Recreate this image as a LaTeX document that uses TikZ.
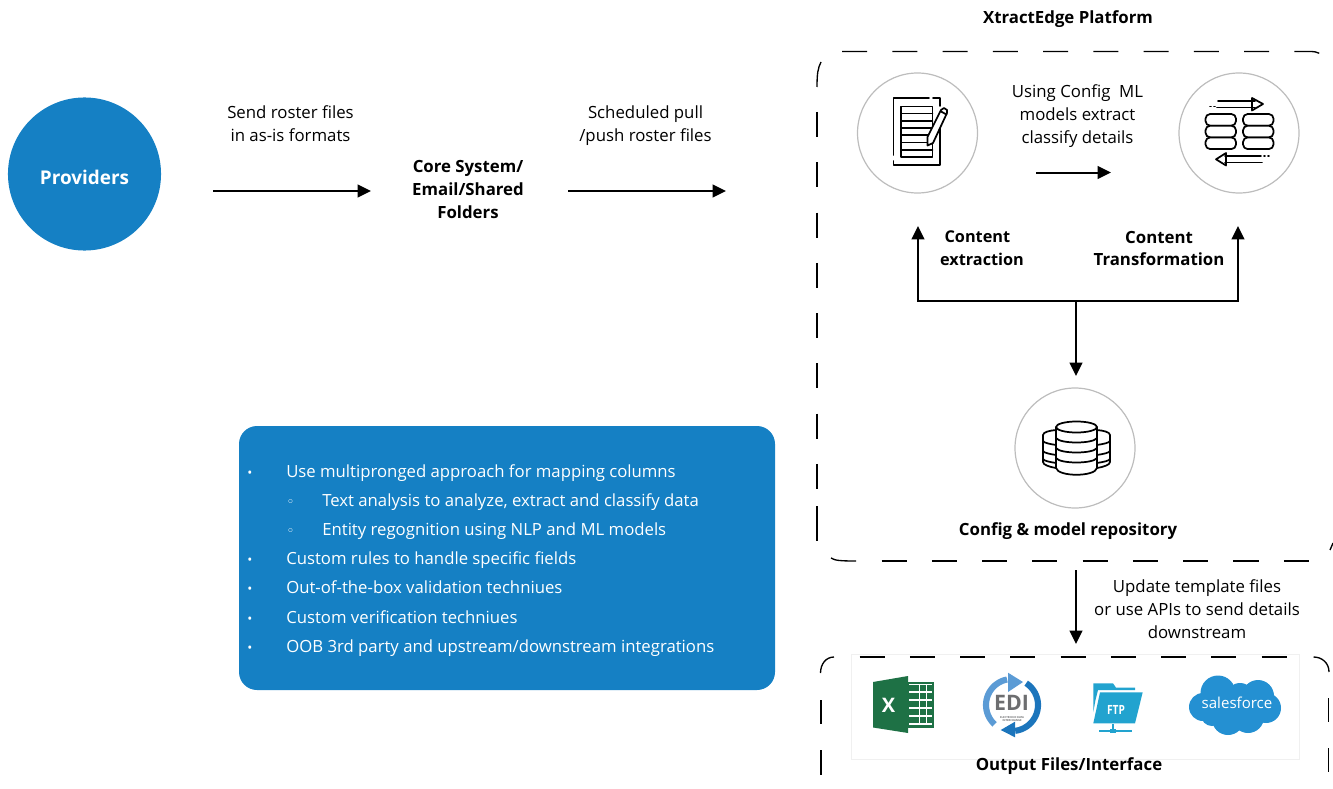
\documentclass[tikz,border=0pt]{standalone}
\usepackage{fontspec}
\setmainfont{Open Sans}
\newfontfamily\djv{DejaVu Sans}
\usetikzlibrary{arrows.meta}
\definecolor{pblue}{HTML}{1580C4}
\definecolor{ring}{HTML}{BDBDBD}
\definecolor{xlgreen}{HTML}{1E7145}
\definecolor{edil}{HTML}{5B9BD5}
\definecolor{edid}{HTML}{1C75BC}
\definecolor{ftpb}{HTML}{22A3CF}
\definecolor{sfb}{HTML}{2490D2}
\definecolor{edig}{HTML}{6D6E70}
\tikzset{
 x=0.75pt,y=-0.75pt,
 lab/.style={align=center,font=\fontsize{12.6}{17.2}\selectfont,text=black,inner sep=0},
 blab/.style={lab,font=\fontsize{12.6}{17.2}\selectfont\bfseries},
 conn/.style={line width=1.5pt,-{Triangle[length=10pt,width=9.5pt]}},
 dashb/.style={line width=1pt,black,dash pattern=on 18.8pt off 18.9pt},
 soldb/.style={line width=1pt,black},
 ringc/.style={circle,draw=ring,line width=0.9pt,minimum size=90pt,inner sep=0,fill=white},
 ico/.style={line width=1.3pt,black,line cap=round,line join=round},
 bul/.style={anchor=base west,inner sep=0,text=white,font=\fontsize{12.55}{16}\selectfont},
 bdot/.style={anchor=base,inner sep=0,text=white,font=\fontsize{10}{10}\selectfont},
}
\begin{document}
\begin{tikzpicture}
\useasboundingbox (0,0) rectangle (1333,788);
\clip (0,0) rectangle (1333,788);
% Providers
\node[circle,fill=pblue,minimum size=114.8pt,inner sep=0] (prov) at (84.5,174) {};
\node[text=white,inner sep=0,font=\fontsize{14.2}{17}\selectfont\bfseries] (provt) at (84.5,177) {Providers};
\node[blab] (core) at (468,189.5) {Core System/\\Email/Shared\\Folders};
\node[lab] (l1) at (290.5,124) {Send roster files\\in as-is formats};
\node[lab] (l2) at (645.5,125.5) {Scheduled pull\\/push roster files};
\coordinate (a1) at (213,191); \coordinate (a2) at (371,191);
\coordinate (b1) at (568,191); \coordinate (b2) at (726,191);
\draw[conn] (a1) -- (a2);
\draw[conn] (b1) -- (b2);
% Platform
\node[blab] (plat) at (1068,19) {XtractEdge Platform};
\node[blab,font=\fontsize{12.2}{17.2}\selectfont\bfseries] (ext) at (982,248.5) {Content\hspace*{7pt}\\extraction};
\node[blab] (tra) at (1159,248.5) {Content\\Transformation};
\node[lab] (l3) at (1077.5,116) {Using Config\ \ ML\\models extract\\classify details};
\node[lab] (l4) at (1197,609) {Update template files\\or use APIs to send details\\downstream};
\node[blab] (repo) at (1068,531) {Config \& model repository};
% dashed frame 1
\draw[dashb] (842,51.5) -- (1310,51.5) .. controls (1314,51.5) and (1317,52) .. (1320,53.5);
\draw[soldb] (821,62) .. controls (818,68) and (817,73) .. (817,87);
\draw[dashb] (817,112) -- (817,490);
\draw[soldb] (817,506) -- (817,541);
\draw[soldb] (831,558) .. controls (835,560.5) and (840,561) .. (856,561);
\draw[dashb] (881.6,561) -- (1310,561);
\draw[soldb] (1330,550) -- (1333,543);
% circles
\node[ringc] (c1) at (917.5,133) {};
\node[ringc] (c2) at (1239,133) {};
\node[ringc] (c3) at (1075,448) {};
% connectors
\coordinate (j) at (1076,301);
\coordinate (u1) at (918,226); \coordinate (u2) at (1238,226);
\coordinate (d1) at (1076,376);
\coordinate (e1) at (1036,172.5); \coordinate (e2) at (1111,172.5);
\coordinate (f1) at (1076,570); \coordinate (f2) at (1076,644);
\draw[conn] (j) -| (u1);
\draw[conn] (j) -| (u2);
\draw[conn] (j) -- (d1);
\draw[conn] (e1) -- (e2);
\draw[conn] (f1) -- (f2);
\begin{scope}[ico]
% document icon
\draw (929,98) -- (893.5,98) -- (893.5,155);
\draw (893.5,161) -- (893.5,165) -- (940,165) -- (940,118);
\draw (933,98) -- (940,98) -- (940,106);
\draw (901,106.5) rectangle (932.5,157);
\foreach \yy in {113.5,120.7,128,135.2,142.4,149.7} \draw (901,\yy) -- (932.5,\yy);
\draw[fill=white] (927.5,137) -- (941,110) -- (944,108) -- (947,110) -- (947,113) -- (933,143) -- (927.5,145.5) -- cycle;
\draw (941,111.5) -- (946.5,114.5);
% transform icon
\foreach \xx in {1205.5,1243} {
  \foreach \yy in {114,125.7,137.4}
    \draw[rounded corners=3.5pt,fill=white] (\xx,\yy) rectangle ++(30.5,11.7);
}
\draw (1218,100.7) -- (1255,100.7); \draw (1217,107.5) -- (1255,107.5);
\draw (1252,98) -- (1263,104) -- (1252,110.5) -- cycle;
\draw (1210,106.5) -- (1211,106.5); \draw (1214,106.5) -- (1215,106.5);
\draw (1225,156) -- (1261,156); \draw (1225,162.5) -- (1262,162.5);
\draw (1226,153) -- (1216,159.3) -- (1226,165.5) -- cycle;
\draw (1264,156) -- (1265,156); \draw (1268,156) -- (1269,156);
% database icon
\draw[fill=white] (1056,430) .. controls (1050,430.5) and (1043,432) .. (1043,435) -- (1043,462) .. controls (1043,465) and (1050,467) .. (1056,468);
\draw[fill=white] (1097,430) .. controls (1103,430.5) and (1110,432) .. (1110,435) -- (1110,462) .. controls (1110,465) and (1103,467) .. (1097,468);
\foreach \yy in {441,451,459} {
  \draw (1043,\yy) .. controls (1044,\yy+2) and (1050,\yy+3) .. (1056,\yy+4);
  \draw (1110,\yy) .. controls (1109,\yy+2) and (1103,\yy+3) .. (1097,\yy+4);
}
\draw[fill=white] (1056,427) -- (1056,468) .. controls (1058,477) and (1095,477) .. (1097,468) -- (1097,427);
\draw[fill=white] (1076.5,427) ellipse[x radius=20.5,y radius=5.5];
\foreach \yy in {438,448,458} \draw (1056,\yy) .. controls (1060,\yy+6) and (1093,\yy+6) .. (1097,\yy);
\end{scope}
% bottom frame
\draw[draw=black!6,line width=0.5pt] (851,654) rectangle (1299,759);
\draw[dashb] (859.5,657) -- (1290,657);
\draw[soldb] (820.5,673) .. controls (820.5,664) and (826,657) .. (834,657);
\draw[soldb] (1313.5,657) .. controls (1322,657) and (1329,663) .. (1329,672);
\draw[soldb] (821,700) -- (821,724);
\draw[soldb] (821,750) -- (821,775);
\draw[soldb] (1328.5,698) -- (1328.5,722);
\draw[soldb] (1328.5,748) -- (1328.5,772);
\node[blab] (out) at (1069,766.5) {Output Files/Interface};
% Excel
\fill[xlgreen] (873,682) -- (908,676) -- (908,733) -- (873,727.5) -- cycle;
\fill[xlgreen] (907,681.5) -- (934,681.5) -- (934,727.5) -- (907,727.5) -- cycle;
\fill[white] (909,684) rectangle (932,725);
\foreach \xx/\ww in {909/10,920/6,927/5} {
 \foreach \yy in {684.8,692.8,700.8,708.8,716.8}
  \fill[xlgreen] (\xx,\yy) rectangle ++(\ww,6.6);
}
\node[text=white,font=\fontsize{15}{15}\selectfont\bfseries,inner sep=0] (xl) at (888.5,705) {X};
% EDI
\draw[edil,line width=4.6pt] plot[domain=132:259,samples=30,smooth] ({1012+26*cos(\x)},{705+26*sin(\x)});
\fill[edil] (1008,672.7) -- (1023,682) -- (1008,692) -- cycle;
\draw[edid,line width=4.6pt] plot[domain=-57:83,samples=30,smooth] ({1012+26*cos(\x)},{705+26*sin(\x)});
\fill[edid] (1015,721.7) -- (1000.7,730) -- (1015,737.3) -- cycle;
\node[text=edig,font=\fontsize{16}{16}\selectfont\bfseries,inner sep=0,text height=11.4pt,text depth=0pt] (edi) at (1011.5,702.5) {EDI};
\node[text=edig,align=center,font=\fontsize{2}{2.4}\selectfont\bfseries,inner sep=0] (edit) at (1012,719) {ELECTRONIC DATA\\INTERCHANGE};
% FTP
\fill[ftpb] (1093.3,683.3) -- (1113,683.3) -- (1116,687.7) -- (1135,687.7) -- (1135,690) -- (1098,690) -- (1095.5,700) -- (1093.3,712) -- cycle;
\fill[ftpb] (1100,692.3) -- (1142.7,692.3) -- (1135,723.3) -- (1093.3,723.3) -- cycle;
\node[text=white,xscale=0.8,font=\fontsize{9.5}{10}\selectfont\bfseries,inner sep=0] (ftp) at (1116,709.5) {FTP};
\draw[ftpb,line width=1.6pt] (1099,731) -- (1132,731);
\draw[ftpb,line width=1.4pt] (1113,724) -- (1113,731);
\fill[ftpb] (1110,728.5) rectangle (1116,733);
% Salesforce
\fill[sfb] (1203,707) circle[radius=14];
\fill[sfb] (1218,693) circle[radius=17.5];
\fill[sfb] (1240,697) circle[radius=14];
\fill[sfb] (1258,696) circle[radius=16];
\fill[sfb] (1266,708) circle[radius=15];
\fill[sfb] (1248,717) circle[radius=16];
\fill[sfb] (1228,719) circle[radius=16];
\fill[sfb] (1212,715) circle[radius=11];
\fill[sfb] (1205,695) rectangle (1265,720);
\node[text=white,font=\fontsize{11.3}{12}\selectfont,inner sep=0] (sf) at (1237,703) {salesforce};
% Blue box
\node[fill=pblue,rounded corners=13.5pt,minimum width=402pt,minimum height=198pt,inner sep=0] (box) at (507,558) {};
\foreach \yy/\txt in {477/{Use multipronged approach for mapping columns},564/{Custom rules to handle specific fields},593.5/{Out-of-the-box validation techniues},623/{Custom verification techniues},652/{OOB 3rd party and upstream/downstream integrations}}{
 \node[bul] at (286,\yy) {\txt};
 \node[bdot] at (250,\yy) {•};
}
\foreach \yy/\txt in {506/{Text analysis to analyze, extract and classify data},535/{Entity regognition using NLP and ML models}}{
 \node[bul] at (322,\yy) {\txt};
 \node[bdot,font=\fontsize{10}{10}\selectfont\djv] at (290.5,\yy) {◦};
}
\end{tikzpicture}
\end{document}
